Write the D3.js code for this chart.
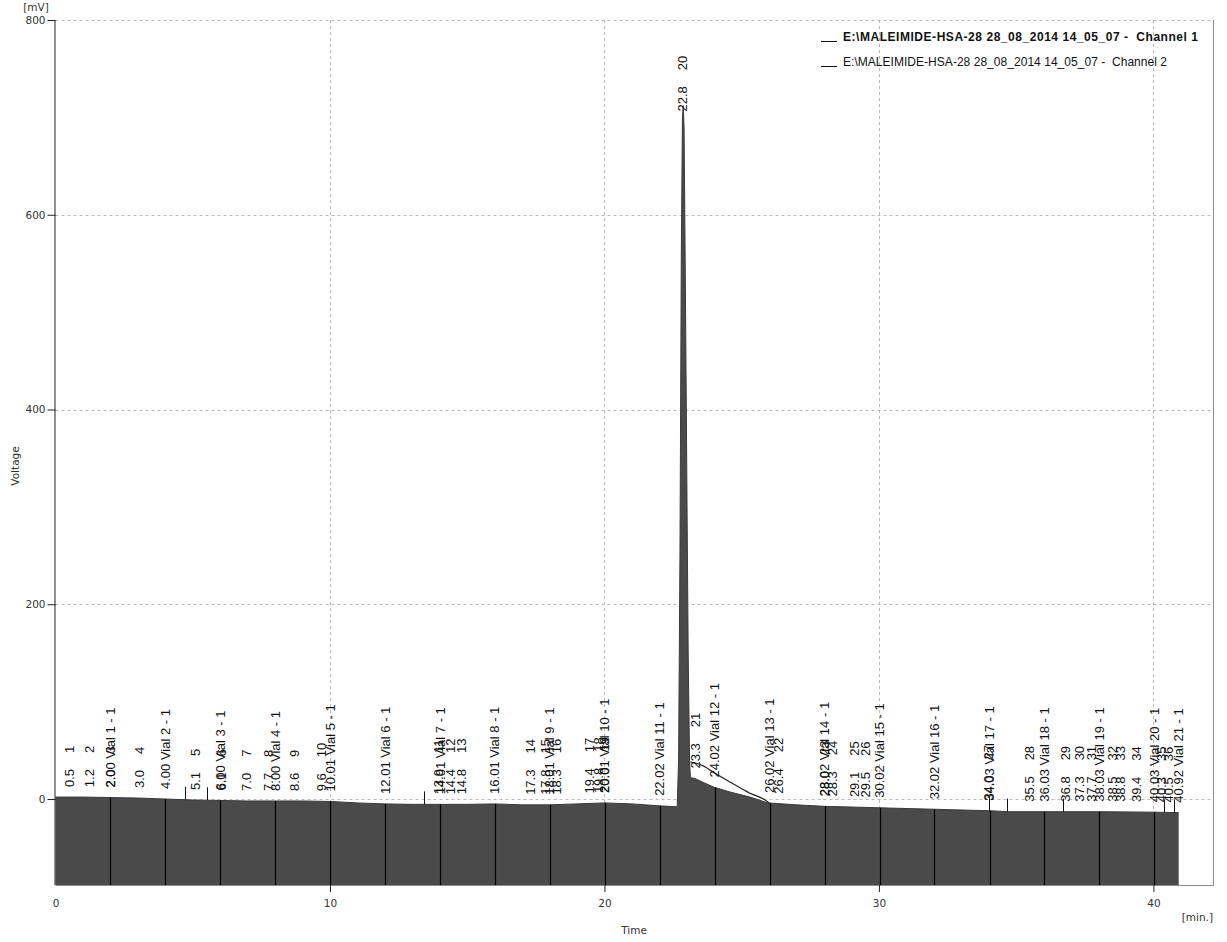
<!DOCTYPE html>
<html>
<head>
<meta charset="utf-8">
<script src="https://cdn.jsdelivr.net/npm/d3@7"></script>
<style>
  html, body { margin: 0; padding: 0; background: #fff; }
  svg { display: block; }
</style>
</head>
<body>
<svg id="chart" width="1227" height="942"></svg>
<script>
// ---------- DATA ----------
const xTicks = [0, 10, 20, 30, 40];
const yTicks = [0, 200, 400, 600, 800];

// Channel 1 signal (time [min], voltage [mV])
const ch1Time = [0, 1, 2, 3, 4, 5, 6, 7, 8, 9, 10, 11, 12, 13, 14, 15, 16, 17, 18, 19, 20, 21, 22, 22.65,
  22.70, 22.75, 22.80, 22.84, 22.87, 22.90, 22.95, 23.00, 23.05, 23.10, 23.13,
  23.3, 23.6, 24.0, 24.6, 25.3, 25.95, 27, 28, 30, 32, 34, 34.7, 36, 38, 40, 40.92];
const ch1Volt = [2, 2, 1.5, 1, 0, -1, -1.5, -2, -2, -2, -2.5, -4, -5, -5.5, -5.5, -5.5, -5, -6, -6, -5, -4, -5, -7, -8,
  40, 250, 560, 700, 712, 690, 520, 330, 150, 40, 22,
  21, 17, 12, 7, 2, -4, -6, -7.5, -9, -10.5, -12, -13, -13, -13, -13.5, -14];

// Channel 2 (only where it departs from channel 1)
const ch2Time = [23.13, 23.3, 23.6, 24.0, 24.6, 25.3, 25.85, 26.0];
const ch2Volt = [38, 37, 34, 27, 17, 6, -1, -4];

// Peak labels: position, retention-time text, peak number
const peakTime = [0.5, 1.25, 2.0, 3.05, 5.1, 6.05, 6.95, 7.75, 8.7, 9.7, 13.95, 14.4, 14.8, 17.3, 17.85, 18.25,
  19.45, 19.8, 20.0, 22.85, 23.3, 26.35, 28.0, 28.3, 29.1, 29.5, 34.0, 35.5, 36.8, 37.3, 37.75, 38.5, 38.8, 39.4, 40.3, 40.55];
const peakText = ["0.5", "1.2", "2.0", "3.0", "5.1", "6.1", "7.0", "7.7", "8.6", "9.6", "13.9", "14.4", "14.8", "17.3", "17.8", "18.3",
  "19.4", "19.8", "20.0", "22.8", "23.3", "26.4", "28.0", "28.3", "29.1", "29.5", "34.0", "35.5", "36.8", "37.3", "37.7", "38.5", "38.8", "39.4", "40.3", "40.5"];
const peakNum = [1, 2, 3, 4, 5, 6, 7, 8, 9, 10, 11, 12, 13, 14, 15, 16, 17, 18, 19, 20, 21, 22, 23, 24, 25, 26, 27, 28, 29, 30, 31, 32, 33, 34, 35, 36];

// Vial events
const vialTime = [2.00, 4.00, 6.00, 8.00, 10.01, 12.01, 14.01, 16.01, 18.01, 20.01, 22.02, 24.02, 26.02, 28.02, 30.02, 32.02, 34.03, 36.03, 38.03, 40.03, 40.92];
const vialText = ["2.00", "4.00", "6.00", "8.00", "10.01", "12.01", "14.01", "16.01", "18.01", "20.01", "22.02", "24.02", "26.02", "28.02", "30.02", "32.02", "34.03", "36.03", "38.03", "40.03", "40.92"];
const vialNum = [1, 2, 3, 4, 5, 6, 7, 8, 9, 10, 11, 12, 13, 14, 15, 16, 17, 18, 19, 20, 21];

// Peak start/end markers
const markerTime = [4.72, 5.52, 13.43, 34.0, 34.65, 36.7, 40.4, 40.75];

const legendLabels = ["E:\\MALEIMIDE-HSA-28 28_08_2014 14_05_07 -  Channel 1", "E:\\MALEIMIDE-HSA-28 28_08_2014 14_05_07 -  Channel 2"];

// ---------- DRAW ----------
const svg = d3.select("#chart");
const pLeft = 55.5, pRight = 1213, pTop = 20, pBottom = 885;
const x = d3.scaleLinear().domain([0, 42.17]).range([pLeft, pRight]);
const y = d3.scaleLinear().domain([-88.3, 800]).range([pBottom, pTop]);

const ch1 = ch1Time.map((t, i) => ({ t, v: ch1Volt[i] }));
const ch2 = ch2Time.map((t, i) => ({ t, v: ch2Volt[i] }));
const interp = t => {
  for (let i = 1; i < ch1.length; i++) {
    if (t <= ch1[i].t) {
      const a = ch1[i - 1], b = ch1[i];
      return a.v + (b.v - a.v) * (t - a.t) / (b.t - a.t);
    }
  }
  return ch1[ch1.length - 1].v;
};

const axisFont = "'DejaVu Sans', sans-serif";
const labelFont = "'Liberation Sans', Arial, sans-serif";

// grid
const grid = svg.append("g");
grid.selectAll("line.h").data(yTicks).join("line")
  .attr("x1", pLeft).attr("x2", pRight)
  .attr("y1", d => Math.round(y(d)) + 0.5).attr("y2", d => Math.round(y(d)) + 0.5)
  .attr("stroke", "#b8b8b8").attr("stroke-dasharray", "3,3").attr("stroke-width", 1);
grid.selectAll("line.v").data(xTicks.filter(d => d > 0)).join("line")
  .attr("x1", d => Math.round(x(d)) + 0.5).attr("x2", d => Math.round(x(d)) + 0.5)
  .attr("y1", pTop).attr("y2", pBottom)
  .attr("stroke", "#b8b8b8").attr("stroke-dasharray", "3,3").attr("stroke-width", 1);

// frame right/bottom
svg.append("line").attr("x1", pRight + 0.5).attr("x2", pRight + 0.5).attr("y1", pTop).attr("y2", pBottom + 0.5)
  .attr("stroke", "#8a8a8a");
svg.append("line").attr("x1", pLeft).attr("x2", pRight + 0.5).attr("y1", pBottom + 0.5).attr("y2", pBottom + 0.5)
  .attr("stroke", "#8a8a8a");

// filled channel 1
const area = d3.area().x(d => x(d.t)).y0(pBottom).y1(d => y(d.v));
svg.append("path").datum(ch1).attr("d", area).attr("fill", "#4a4a4a");
svg.append("path").datum(ch1).attr("d", d3.line().x(d => x(d.t)).y(d => y(d.v)))
  .attr("fill", "none").attr("stroke", "#3a3a3a").attr("stroke-width", 1);

// channel 2 line
svg.append("path").datum(ch2).attr("d", d3.line().x(d => x(d.t)).y(d => y(d.v)).curve(d3.curveMonotoneX))
  .attr("fill", "none").attr("stroke", "#222").attr("stroke-width", 1.2);

// vial event lines
svg.append("g").selectAll("line").data(vialTime.slice(0, -1)).join("line")
  .attr("x1", d => Math.round(x(d)) + 0.5).attr("x2", d => Math.round(x(d)) + 0.5)
  .attr("y1", d => y(interp(d))).attr("y2", pBottom)
  .attr("stroke", "#000").attr("stroke-width", 1.2);

// peak markers
svg.append("g").selectAll("line").data(markerTime).join("line")
  .attr("x1", d => Math.round(x(d)) + 0.5).attr("x2", d => Math.round(x(d)) + 0.5)
  .attr("y1", d => y(interp(d)) - 13).attr("y2", d => y(interp(d)))
  .attr("stroke", "#111").attr("stroke-width", 1);

// axes
const yAxis = d3.axisLeft(y).tickValues(yTicks).tickSize(8).tickPadding(2).tickFormat(d3.format("d"));
const gy = svg.append("g").attr("transform", `translate(${pLeft},0)`).call(yAxis);
gy.select(".domain").attr("stroke", "#222").attr("d", `M-0.5,${pTop}V${pBottom}`);
gy.selectAll(".tick line").attr("stroke", "#222");
gy.selectAll(".tick text").attr("font-family", axisFont).attr("font-size", 10.5).attr("fill", "#333");

const xAxis = d3.axisBottom(x).tickValues(xTicks).tickSize(7).tickPadding(8).tickFormat(d3.format("d"));
const gx = svg.append("g").attr("transform", `translate(0,${pBottom})`).call(xAxis);
gx.select(".domain").remove();
gx.selectAll(".tick line").attr("stroke", "#222").filter(d => d === 0).remove();
gx.selectAll(".tick text").attr("font-family", axisFont).attr("font-size", 10.5).attr("fill", "#333");

// axis titles
svg.append("text").attr("x", 36).attr("y", 11).attr("text-anchor", "middle")
  .attr("font-family", axisFont).attr("font-size", 10.5).attr("fill", "#333").text("[mV]");
svg.append("text").attr("transform", "translate(19,466) rotate(-90)").attr("text-anchor", "middle")
  .attr("font-family", axisFont).attr("font-size", 10.5).attr("fill", "#333").text("Voltage");
svg.append("text").attr("x", 634).attr("y", 934).attr("text-anchor", "middle")
  .attr("font-family", axisFont).attr("font-size", 10.5).attr("fill", "#333").text("Time");
svg.append("text").attr("x", 1213).attr("y", 921).attr("text-anchor", "end")
  .attr("font-family", axisFont).attr("font-size", 10.5).attr("fill", "#333").text("[min.]");

// peak labels
const labels = svg.append("g").attr("font-family", labelFont).attr("font-size", 13).attr("fill", "#111");
peakTime.forEach((t, i) => {
  const v = interp(t);
  const by = y(v) - (v > 100 ? 2 : 10);
  const tx = labels.append("text")
    .attr("transform", `translate(${x(t) + 4.5},${by}) rotate(-90)`);
  tx.append("tspan").text(peakText[i]);
  tx.append("tspan").attr("dx", 16).text(peakNum[i]);
});
vialTime.forEach((t, i) => {
  const v = interp(t);
  const by = y(v) - 10;
  labels.append("text")
    .attr("transform", `translate(${x(t) + 4.5},${by}) rotate(-90)`)
    .text(`${vialText[i]} Vial ${vialNum[i]} - 1`);
});

// legend
const legendWidths = [355, 324];
const leg = svg.append("g").attr("font-family", labelFont).attr("font-size", 12).attr("fill", "#111");
legendLabels.forEach((s, i) => {
  const ly = 41 + i * 25;
  leg.append("line").attr("x1", 821).attr("x2", 837).attr("y1", ly + 0.5).attr("y2", ly + 0.5)
    .attr("stroke", "#111").attr("stroke-width", 1);
  leg.append("text").attr("x", 843).attr("y", ly)
    .attr("xml:space", "preserve").style("white-space", "pre")
    .attr("textLength", legendWidths[i]).attr("lengthAdjust", "spacing")
    .attr("font-weight", i === 0 ? "bold" : "normal").text(s);
});
</script>
</body>
</html>
